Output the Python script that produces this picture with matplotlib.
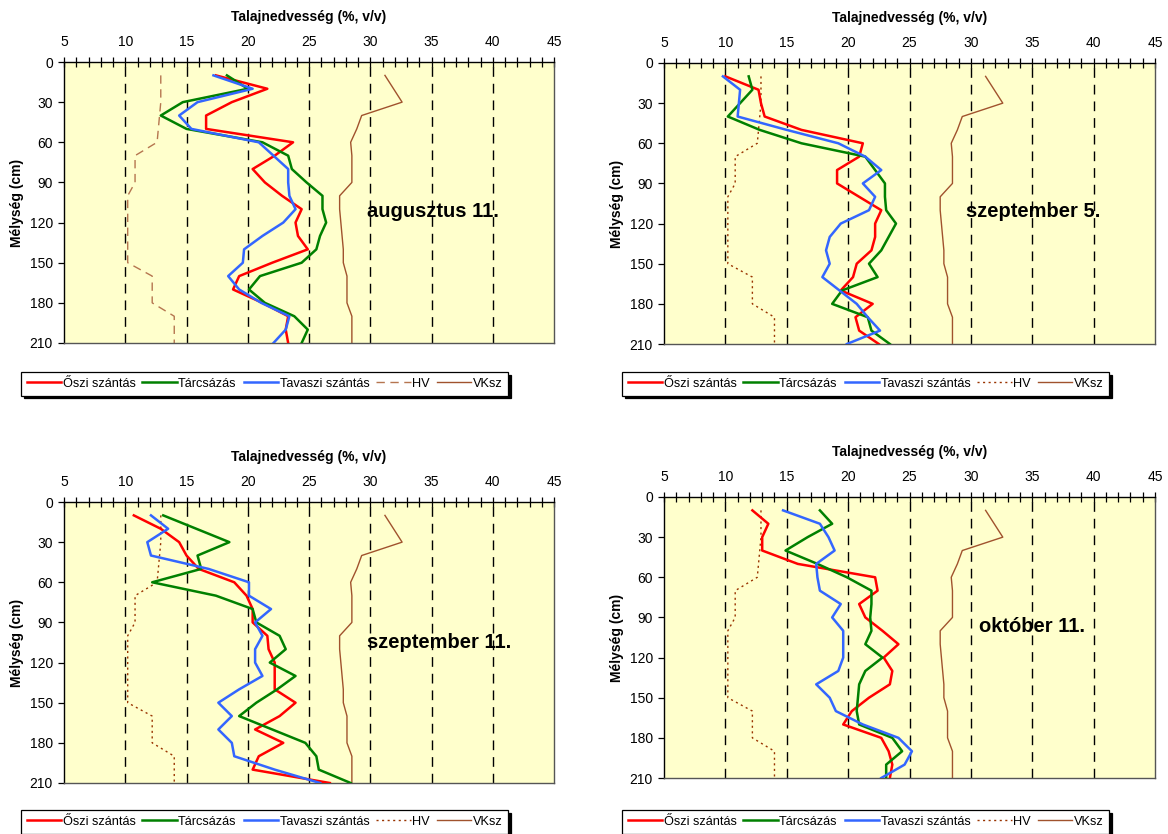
import matplotlib
matplotlib.use('Agg')
import matplotlib.pyplot as plt

plt.rcParams['font.family'] = ['Liberation Sans', 'DejaVu Sans']

# Depths (cm)
depth = [10, 20, 30, 40, 50, 60, 70, 80, 90, 100, 110, 120, 130, 140, 150,
         160, 170, 180, 190, 200, 210]

# Reference curves (same on every panel)
hv = [12.9, 12.9, 12.9, 12.8, 12.7, 12.6, 10.8, 10.8, 10.8, 10.2, 10.2,
      10.2, 10.2, 10.2, 10.2, 12.2, 12.2, 12.2, 14.0, 14.0, 14.0]
vksz = [31.2, 31.9, 32.6, 29.3, 28.9, 28.4, 28.5, 28.5, 28.5, 27.5, 27.5,
        27.6, 27.7, 27.8, 27.8, 28.1, 28.1, 28.1, 28.5, 28.5, 28.5]

# augusztus 11.
aug_oszi = [17.4, 21.6, 18.7, 16.6, 16.6, 23.7, 22.2, 20.4, 21.4, 22.8, 24.4,
            23.9, 24.1, 24.9, 22.0, 19.3, 18.8, 21.2, 23.3, 23.1, 23.3]
aug_tarcs = [18.3, 20.0, 14.7, 12.9, 15.0, 21.2, 23.3, 23.6, 24.8, 26.1, 26.1,
             26.4, 25.9, 25.6, 24.4, 21.0, 20.1, 21.4, 23.8, 24.9, 24.4]
aug_tavaszi = [17.2, 20.4, 15.9, 14.4, 15.4, 20.9, 22.1, 23.3, 23.3, 23.4, 23.9,
               22.9, 21.2, 19.7, 19.6, 18.4, 19.3, 21.1, 23.4, 23.1, 22.1]

# szeptember 5.
sep5_oszi = [10.0, 12.7, 12.9, 13.2, 16.2, 21.2, 20.9, 19.1, 19.1, 20.9, 22.7,
             22.2, 22.2, 21.9, 20.7, 20.4, 19.4, 22.0, 20.6, 20.9, 22.5]
sep5_tarcs = [11.9, 12.2, 11.2, 10.2, 12.8, 16.2, 21.4, 22.2, 23.0, 23.0, 23.1,
              23.9, 23.3, 22.7, 21.7, 22.4, 19.5, 18.7, 21.6, 21.9, 23.4]
sep5_tavaszi = [9.8, 11.2, 11.1, 11.0, 15.0, 19.2, 21.4, 22.7, 21.2, 22.2, 21.7,
                19.4, 18.5, 18.2, 18.5, 17.9, 19.3, 20.7, 21.6, 22.6, 19.9]

# szeptember 11.
sep11_oszi = [10.7, 12.9, 14.4, 15.0, 16.0, 18.9, 19.9, 20.4, 20.4, 21.6, 21.7,
              22.2, 22.2, 22.2, 23.9, 22.6, 20.6, 22.9, 20.9, 20.4, 26.7]
sep11_tarcs = [13.1, 15.8, 18.5, 15.9, 16.2, 12.2, 17.4, 20.4, 20.7, 22.6, 23.1,
               21.8, 23.9, 22.4, 20.7, 19.3, 22.0, 24.7, 25.6, 25.8, 28.4]
sep11_tavaszi = [12.1, 13.5, 11.8, 12.1, 16.8, 20.1, 20.1, 21.9, 20.6, 21.2, 20.6,
                 20.6, 21.2, 19.3, 17.6, 18.7, 17.6, 18.7, 18.9, 22.2, 25.9]

# október 11.
okt_oszi = [12.2, 13.5, 13.0, 13.0, 15.9, 22.2, 22.4, 20.9, 21.4, 22.8, 24.1,
            22.9, 23.6, 23.4, 21.7, 20.3, 19.6, 22.7, 23.3, 23.6, 23.4]
okt_tarcs = [17.7, 18.7, 16.7, 14.9, 17.5, 19.9, 21.9, 21.9, 21.8, 21.9, 21.4,
             22.8, 21.4, 20.9, 20.8, 20.7, 20.9, 23.6, 24.4, 23.1, 23.1]
okt_tavaszi = [14.7, 17.7, 18.4, 18.9, 17.4, 17.5, 17.7, 19.4, 18.7, 19.6, 19.6,
               19.6, 19.2, 17.4, 18.5, 19.0, 21.2, 24.1, 25.2, 24.6, 22.7]

dates = ['augusztus 11.', 'szeptember 5.', 'szeptember 11.', 'október 11.']
series_names = ['Őszi szántás', 'Tárcsázás', 'Tavaszi szántás', 'HV', 'VKsz']

W, H = 1168, 834
fig = plt.figure(figsize=(W / 100, H / 100), dpi=100)

# axes box in pixels (left, top, right, bottom), date label spot, legend spot (px)
panels = [
    (64, 62, 554, 343, aug_oszi, aug_tarcs, aug_tavaszi, (29.7, 112), (21, 372), 'dashed'),
    (664, 63, 1155, 344, sep5_oszi, sep5_tarcs, sep5_tavaszi, (29.6, 111), (622, 372), 'dotted'),
    (64, 502, 554, 783, sep11_oszi, sep11_tarcs, sep11_tavaszi, (29.7, 105), (21, 810), 'dotted'),
    (664, 497, 1155, 778, okt_oszi, okt_tarcs, okt_tavaszi, (30.7, 97), (622, 810), 'dotted'),
]

for i, (l, t, r, b, oszi, tarcs, tavaszi, lab_pos, leg_px, hv_style) in enumerate(panels):
    ax = fig.add_axes([l / W, 1 - b / H, (r - l) / W, (b - t) / H])
    ax.set_facecolor('#FFFFCC')

    # vertical dashed grid
    for gx in [10, 15, 20, 25, 30, 35, 40]:
        ax.axvline(gx, color='black', lw=1.0, ls=(0, (7, 5)), zorder=1)

    ax.plot(oszi, depth, color='#FF0000', lw=1.8, label=series_names[0], zorder=3)
    ax.plot(tarcs, depth, color='#008000', lw=1.8, label=series_names[1], zorder=3)
    ax.plot(tavaszi, depth, color='#3366FF', lw=1.8, label=series_names[2], zorder=3)
    if hv_style == 'dashed':
        ax.plot(hv, depth, color='#B5754F', lw=1.0, ls=(0, (6, 4)), label=series_names[3], zorder=2)
    else:
        ax.plot(hv, depth, color='#993300', lw=1.0, ls=(0, (1.5, 2.5)), label=series_names[3], zorder=2)
    ax.plot(vksz, depth, color='#A0522D', lw=1.0, label=series_names[4], zorder=2)

    ax.set_xlim(5, 45)
    ax.set_ylim(210, 0)
    ax.xaxis.tick_top()
    ax.xaxis.set_label_position('top')
    ax.set_xticks(range(5, 46, 5))
    ax.set_xticks(range(5, 46, 1), minor=True)
    ax.tick_params(axis='x', which='major', direction='inout', length=7, width=0.9,
                   labelsize=10, pad=6)
    ax.tick_params(axis='x', which='minor', direction='inout', length=7, width=0.9)
    ax.set_yticks(range(0, 211, 30))
    ax.tick_params(axis='y', direction='out', length=4, width=0.9, labelsize=10, pad=4)

    for side, sp in ax.spines.items():
        sp.set_linewidth(1.0)
        sp.set_color('black' if side in ('top', 'left') else '#555555')

    ax.set_xlabel('Talajnedvesség (%, v/v)', fontsize=10, fontweight='bold', labelpad=10)
    ax.set_ylabel('Mélység (cm)', fontsize=10, fontweight='bold', labelpad=4)

    ax.text(lab_pos[0], lab_pos[1], dates[i], fontsize=14.5, fontweight='bold',
            ha='left', va='center', zorder=4)

    leg_x = (leg_px[0] - l) / (r - l)
    leg_y = (b - leg_px[1]) / (b - t)
    leg = ax.legend(loc='upper left', bbox_to_anchor=(leg_x, leg_y),
                    ncol=5, fontsize=9.2, frameon=True, fancybox=False,
                    shadow={'color': 'black', 'alpha': 1}, handlelength=2.7,
                    handletextpad=0.1, columnspacing=0.55, borderpad=0.45,
                    borderaxespad=0)
    leg.get_frame().set_edgecolor('black')
    leg.get_frame().set_linewidth(0.9)

fig.savefig('out.png', dpi=100)
